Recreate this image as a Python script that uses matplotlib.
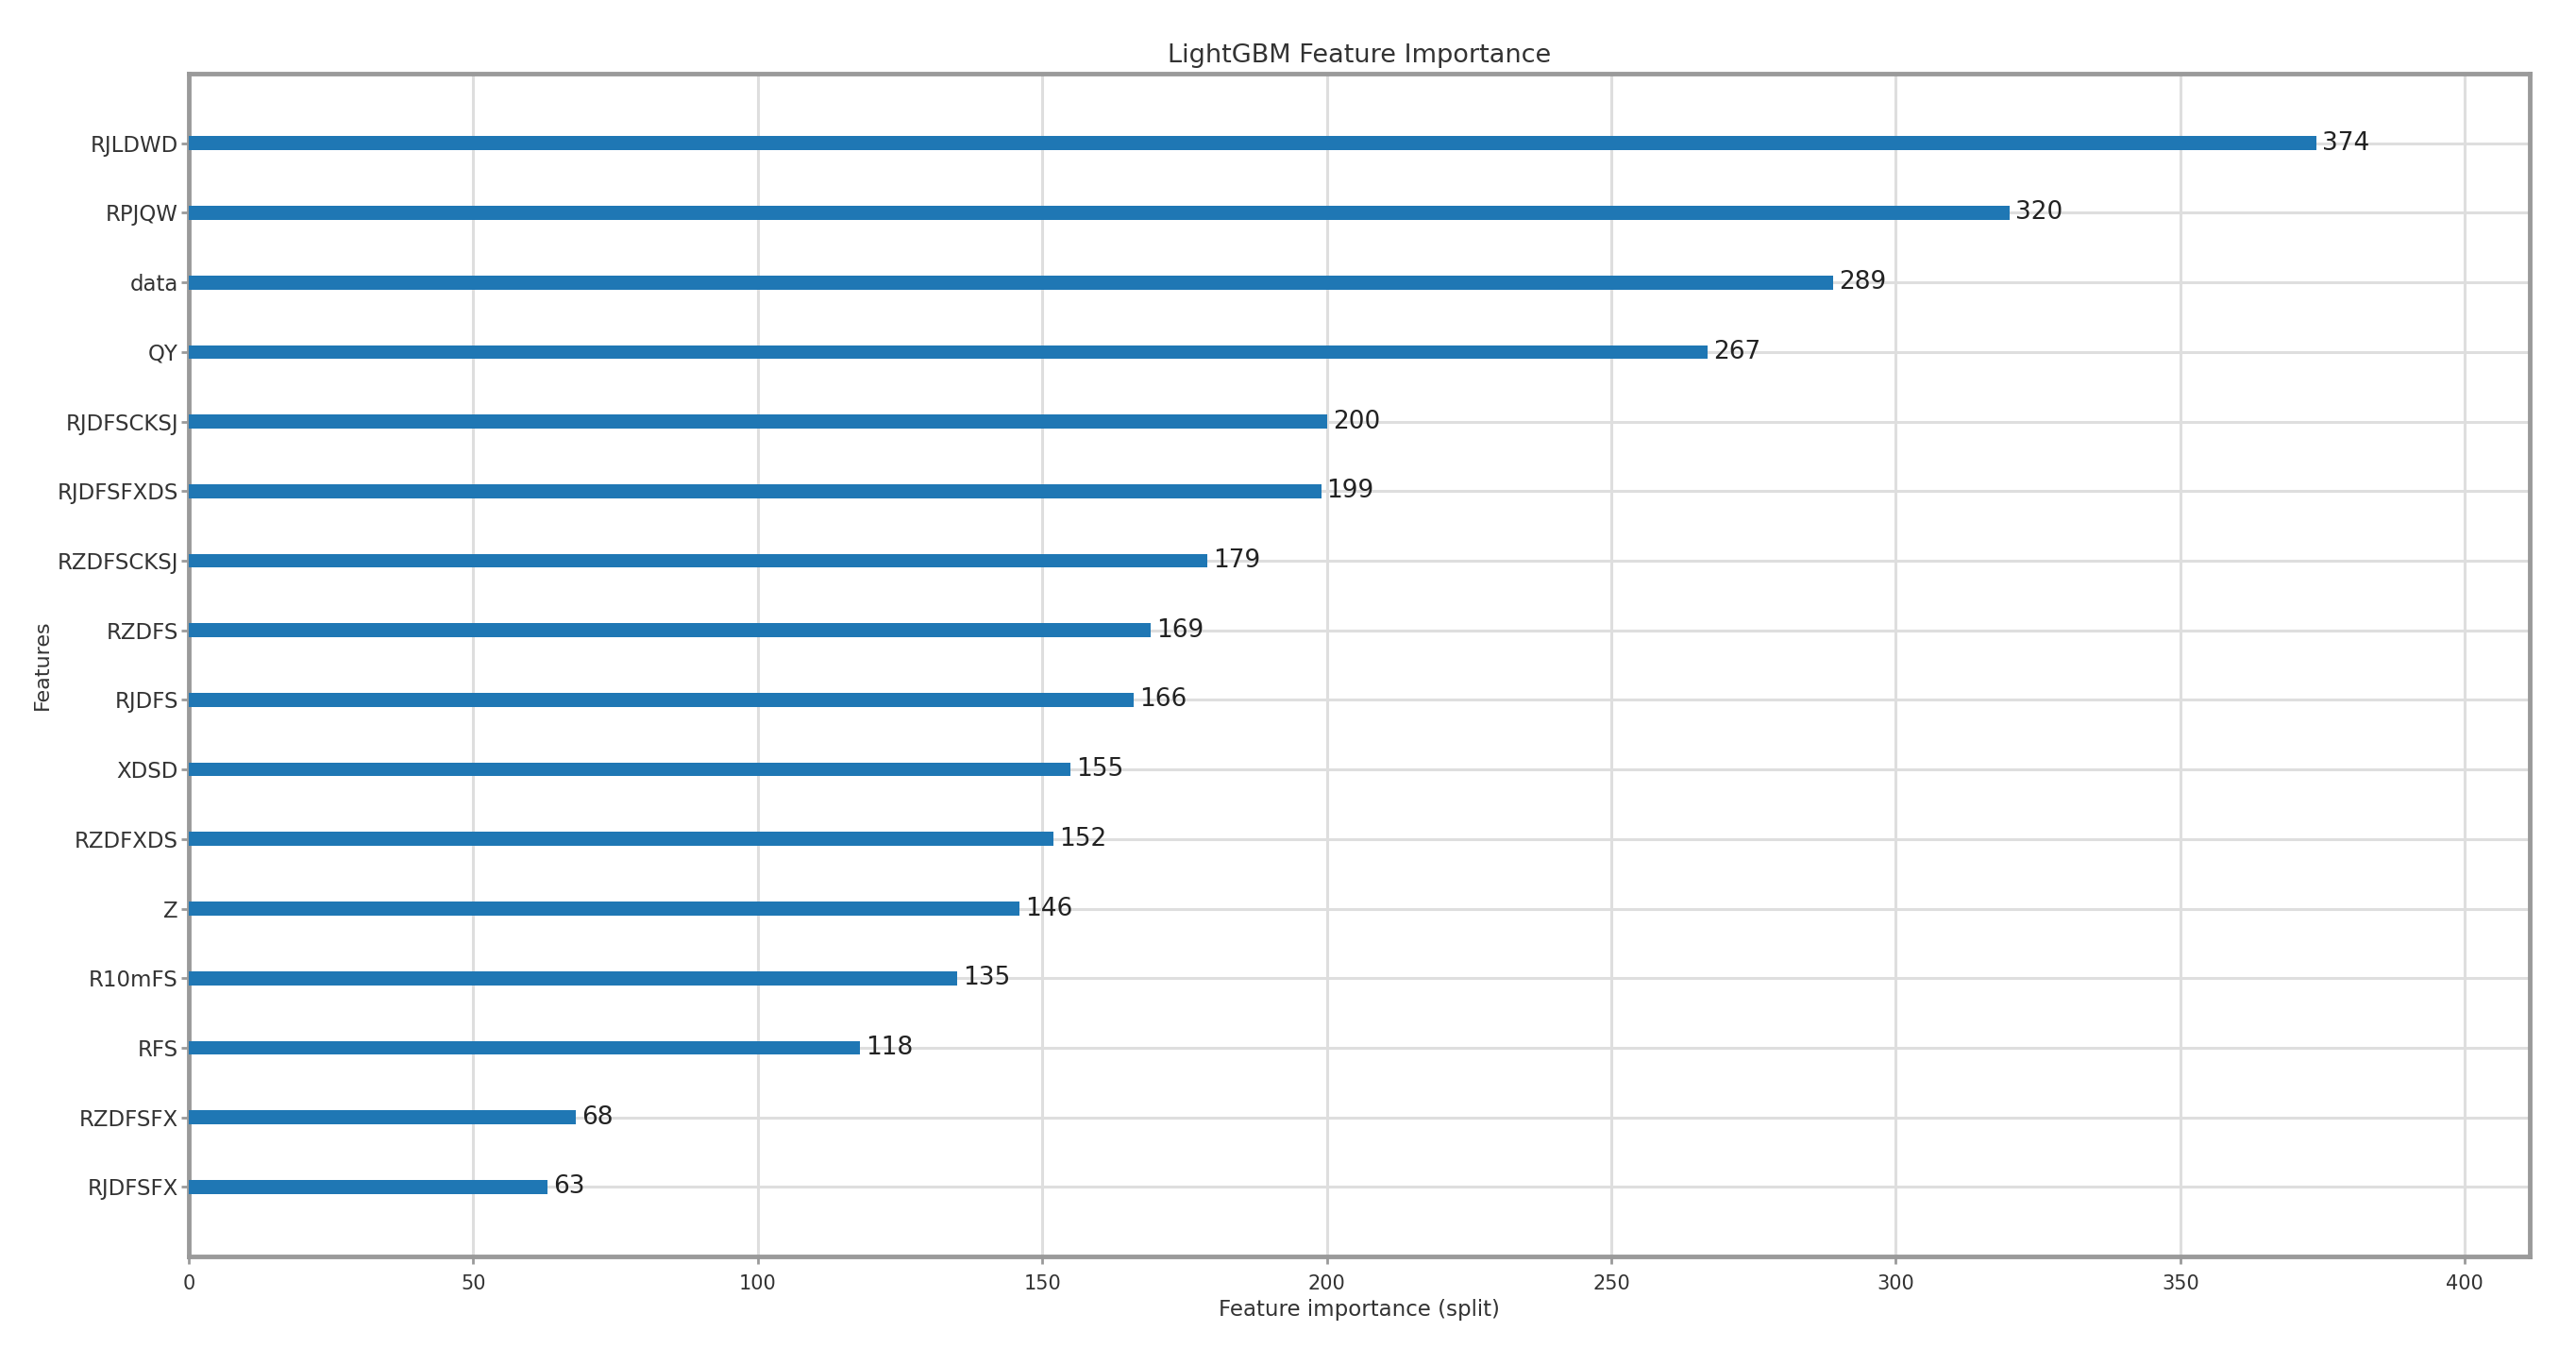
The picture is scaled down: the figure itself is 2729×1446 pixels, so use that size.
import matplotlib
matplotlib.use("Agg")
import matplotlib.pyplot as plt

features = ["RJLDWD", "RPJQW", "data", "QY", "RJDFSCKSJ", "RJDFSFXDS", "RZDFSCKSJ",
            "RZDFS", "RJDFS", "XDSD", "RZDFXDS", "Z", "R10mFS", "RFS", "RZDFSFX", "RJDFSFX"]
importance = [374, 320, 289, 267, 200, 199, 179, 169, 166, 155, 152, 146, 135, 118, 68, 63]
xticks = [0, 50, 100, 150, 200, 250, 300, 350, 400]

# LightGBM plots ascending from bottom
feats = features[::-1]
vals = importance[::-1]

fig = plt.figure(figsize=(27.29, 14.46), dpi=100)
ax = fig.add_axes([0.0733, 0.0795, 0.9087, 0.8665])
ypos = list(range(len(feats)))
ax.barh(ypos, vals, height=0.2, align="center", color="#1f77b4", zorder=3)
for y, v in zip(ypos, vals):
    ax.text(v + 1, y, str(v), va="center", fontsize=19, color="#222222", zorder=4)
ax.set_yticks(ypos)
ax.set_yticklabels(feats, fontsize=16.5, color="#333333")
ax.set_xticks(xticks)
ax.set_xticklabels([str(t) for t in xticks], fontsize=15, color="#333333")
ax.set_xlim(0, max(importance) * 1.1)
ax.set_ylim(-1, len(feats))
ax.set_title("LightGBM Feature Importance", fontsize=19.5, color="#333333", pad=9)
ax.set_xlabel("Feature importance (split)", fontsize=16.5, color="#333333", labelpad=4)
ax.set_ylabel("Features", fontsize=16, color="#333333")
ax.grid(True, color="#dedede", linewidth=2.2, zorder=0)
ax.set_axisbelow(True)
for s in ax.spines.values():
    s.set_color("#9a9a9a")
    s.set_linewidth(3.5)
ax.tick_params(axis="x", length=6, width=2, color="#9a9a9a", pad=8)
ax.tick_params(axis="y", length=6, width=2, color="#9a9a9a", pad=2)
fig.savefig("out.png", dpi=100)
